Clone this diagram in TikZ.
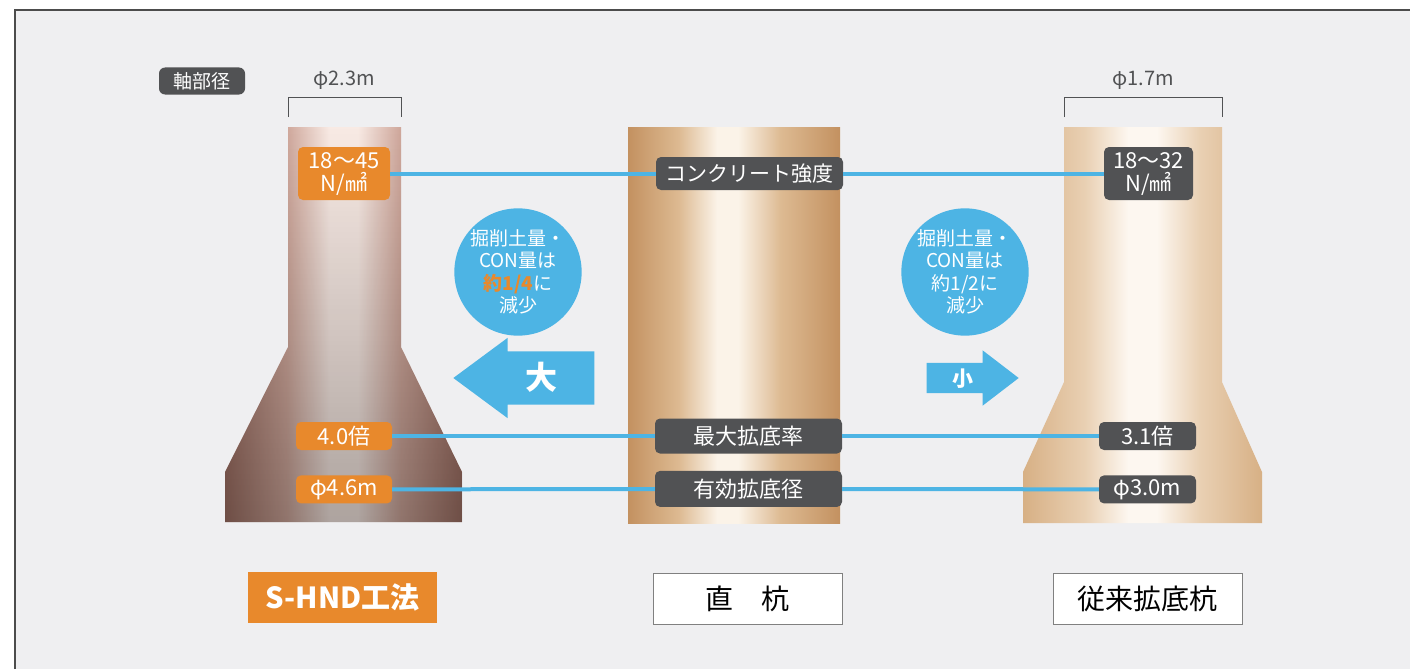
\documentclass[tikz,border=0pt]{standalone}
\usepackage{fontspec}
\setmainfont{Noto Sans CJK JP}
\usetikzlibrary{positioning,shapes.arrows,fadings}
\definecolor{paper}{HTML}{EFEFF1}
\definecolor{darkbox}{HTML}{515254}
\definecolor{hndorange}{HTML}{E8892C}
\definecolor{linkblue}{HTML}{4DB4E4}
\definecolor{hndbrown}{HTML}{9E7064}
\definecolor{hndmid}{HTML}{CFA79B}
\definecolor{hndlight}{HTML}{F8EAE4}
\definecolor{tanpile}{HTML}{C39160}
\definecolor{tanmid}{HTML}{DDBA92}
\definecolor{tanlight}{HTML}{FBF3E8}
\definecolor{sandpile}{HTML}{D7B085}
\definecolor{sandmid}{HTML}{E9D0B3}
\definecolor{sandlight}{HTML}{FDF7F0}
\pgfdeclarehorizontalshading{hndsheen}{100bp}{color(0bp)=(hndbrown); color(25bp)=(hndbrown);
	color(38bp)=(hndmid); color(47bp)=(hndlight); color(53bp)=(hndlight); color(62bp)=(hndmid);
	color(75bp)=(hndbrown); color(100bp)=(hndbrown)}
\pgfdeclarehorizontalshading{tansheen}{100bp}{color(0bp)=(tanpile); color(25bp)=(tanpile);
	color(37bp)=(tanmid); color(46bp)=(tanlight); color(51bp)=(tanlight); color(61bp)=(tanmid);
	color(75bp)=(tanpile); color(100bp)=(tanpile)}
\pgfdeclarehorizontalshading{sandsheen}{100bp}{color(0bp)=(sandpile); color(25bp)=(sandpile);
	color(38bp)=(sandmid); color(47bp)=(sandlight); color(53bp)=(sandlight); color(62bp)=(sandmid);
	color(75bp)=(sandpile); color(100bp)=(sandpile)}

\begin{document}
\begin{tikzpicture}[x=1pt,y=-1pt,
		tag/.style={fill=darkbox,text=white,rounded corners=5pt,inner sep=0pt,
			font=\fontsize{22}{23}\selectfont,align=center},
		otag/.style={tag,fill=hndorange},
		link/.style={draw=linkblue,line width=4pt},
		dim/.style={draw=darkbox,line width=0.8pt},
		dimtext/.style={text=darkbox,font=\fontsize{20}{20}\selectfont},
		bubble/.style={circle,fill=linkblue,text=white,minimum size=124pt,inner sep=0pt,
			align=center,font=\fontsize{19}{22.5}\selectfont},
		blockarrow/.style={single arrow,fill=linkblue,text=white,inner sep=0pt,anchor=tip},
		pilename/.style={draw=gray,fill=white,minimum width=189pt,minimum height=51pt,
			inner sep=0pt,font=\fontsize{28}{30}\selectfont}]
	\useasboundingbox (0,0) rectangle (1410,669);
	\fill[white] (0,0) rectangle (1410,669);
	\fill[paper] (15,10) rectangle (1410,669);
	\draw[gray!60!black,line width=1.5pt] (15,669) -- (15,10) -- (1410,10);

	% piles
	\shade[shading=hndsheen]
		(288,127) -- (401,127) -- (401,347) -- (462,472) -- (462,522)
		-- (225,522) -- (225,472) -- (288,347) -- cycle;
	\fill[black,path fading=north,fill opacity=0.3]
		(288,127) -- (401,127) -- (401,347) -- (462,472) -- (462,522)
		-- (225,522) -- (225,472) -- (288,347) -- cycle;
	\shade[shading=tansheen] (628,127) rectangle (840,523);
	\shade[shading=sandsheen]
		(1064,127) -- (1222,127) -- (1222,382) -- (1262,472) -- (1262,523)
		-- (1023,523) -- (1023,472) -- (1064,382) -- cycle;

	% shaft diameters
	\node[tag,rounded corners=6pt,minimum width=86pt,minimum height=27pt,
		font=\fontsize{19}{19}\selectfont] (shaft) at (202,81) {軸部径};
	\draw[dim] (288,117) -- (288,97) -- (401,97) -- (401,117);
	\node[dimtext] (shaftL) at (344,80) {φ2.3m};
	\draw[dim] (1064,117) -- (1064,97) -- (1222,97) -- (1222,117);
	\node[dimtext] (shaftR) at (1143,80) {φ1.7m};

	% concrete strength
	\node[otag,minimum width=92pt,minimum height=53pt] (strL) at (344,173.5) {18〜45\\N/㎟};
	\node[tag,minimum width=187pt,minimum height=33pt,font=\fontsize{21}{21}\selectfont]
		(conc) at (749.5,173.5) {コンクリート強度};
	\node[tag,minimum width=89pt,minimum height=53pt] (strR) at (1148.5,173.5) {18〜32\\N/㎟};

	% enlargement ratio and base diameter
	\node[otag,minimum width=96pt,minimum height=28pt] (rateL) at (344,436) {4.0倍};
	\node[tag,minimum width=187pt,minimum height=35pt] (rate) at (748.5,436) {最大拡底率};
	\node[tag,minimum width=97pt,minimum height=28pt] (rateR) at (1147.5,436) {3.1倍};
	\node[otag,minimum width=96pt,minimum height=28pt,below=25pt of rateL] (diaL) {φ4.6m};
	\node[tag,minimum width=187pt,minimum height=36pt,below=17pt of rate] (dia) {有効拡底径};
	\node[tag,minimum width=97pt,minimum height=28pt,below=25pt of rateR] (diaR) {φ3.0m};

	\draw[link] (strL) -- (conc) -- (strR);
	\draw[link] (rateL) -- (rate) -- (rateR);
	\draw[link] (diaL) -- (dia) -- (diaR);

	% excavation volume
	\node[bubble] (cutL) at (518,272) {掘削土量・\\CON量は\\{\color{hndorange}\bfseries 約1/4}に\\減少};
	\node[bubble] (cutR) at (965,272) {掘削土量・\\CON量は\\約1/2に\\減少};
	\node[blockarrow,shape border rotate=180,minimum height=141pt,single arrow head extend=13.5pt,
		single arrow tip angle=73,text height=38pt,text depth=15pt,
		font=\fontsize{32}{32}\selectfont\bfseries] (big) at (453,378) {大};
	\node[blockarrow,minimum height=92pt,single arrow head extend=12.5pt,
		single arrow tip angle=75,text height=23pt,text depth=7pt,
		font=\fontsize{21}{21}\selectfont\bfseries] (small) at (1019,378) {小};

	% method names
	\node[pilename,draw=none,fill=hndorange,text=white,font=\fontsize{29}{30}\selectfont\bfseries]
		(hnd) at (342.5,597.5) {S-HND工法};
	\node[pilename] (straight) at (747.5,598.5) {直　杭};
	\node[pilename] (conv) at (1147.5,598.5) {従来拡底杭};
\end{tikzpicture}
\end{document}
